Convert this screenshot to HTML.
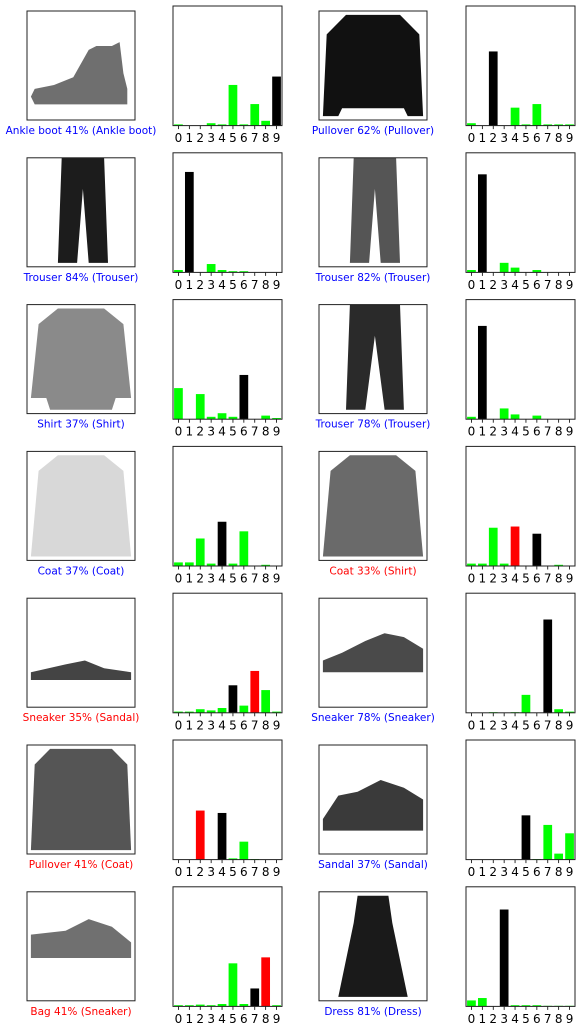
<!DOCTYPE html>
<html><head><meta charset="utf-8"><style>
html,body{margin:0;padding:0;background:#fff;}
svg{display:block;font-family:"DejaVu Sans","Liberation Sans",sans-serif;}
</style></head><body>
<svg id="fig" width="579" height="1029" viewBox="0 0 579 1029" xmlns="http://www.w3.org/2000/svg"></svg>
<script>
const classTicks = ["0","1","2","3","4","5","6","7","8","9"];
const labels = [
 "Ankle boot 41% (Ankle boot)","Pullover 62% (Pullover)",
 "Trouser 84% (Trouser)","Trouser 82% (Trouser)",
 "Shirt 37% (Shirt)","Trouser 78% (Trouser)",
 "Coat 37% (Coat)","Coat 33% (Shirt)",
 "Sneaker 35% (Sandal)","Sneaker 78% (Sneaker)",
 "Pullover 41% (Coat)","Sandal 37% (Sandal)",
 "Bag 41% (Sneaker)","Dress 81% (Dress)"];
const predicted = [9,2,1,1,6,1,4,4,7,7,2,5,8,3];
const trueLabel = [9,2,1,1,6,1,4,6,5,7,4,5,7,3];
const probs0 = [0.01,0,0,0.02,0.01,0.34,0.01,0.18,0.04,0.41];
const probs1 = [0.02,0,0.62,0,0.15,0.01,0.18,0.01,0.01,0.01];
const probs2 = [0.02,0.84,0,0.07,0.02,0.01,0.01,0,0,0];
const probs3 = [0.02,0.82,0,0.08,0.04,0,0.02,0,0,0];
const probs4 = [0.26,0,0.21,0.02,0.05,0.02,0.37,0,0.03,0.01];
const probs5 = [0.02,0.78,0,0.09,0.04,0,0.03,0,0,0];
const probs6 = [0.03,0.03,0.23,0.02,0.37,0.02,0.29,0,0.01,0];
const probs7 = [0.02,0.02,0.32,0.02,0.33,0,0.27,0,0.01,0];
const probs8 = [0.01,0.01,0.03,0.02,0.04,0.23,0.06,0.35,0.19,0.01];
const probs9 = [0,0,0.005,0,0.005,0.15,0,0.78,0.03,0.01];
const probs10 = [0,0,0.41,0,0.39,0.01,0.15,0.005,0,0];
const probs11 = [0,0,0,0,0,0.37,0.005,0.29,0.05,0.22];
const probs12 = [0.01,0.01,0.015,0.01,0.02,0.36,0.02,0.15,0.41,0.01];
const probs13 = [0.05,0.07,0,0.81,0.01,0.01,0.01,0.005,0.005,0.005];
const allProbs = [probs0,probs1,probs2,probs3,probs4,probs5,probs6,probs7,probs8,probs9,probs10,probs11,probs12,probs13];

const shapes = [
 {pts:"1,22 2,20 7,19 12,17 16,10 18,9 22,9 24,8 25,16 26,20 26,24 2,24", fill:"#6f6f6f"},
 {pts:"7,1 21,1 26,6 27,27 23,27 22,25 6,25 5,27 1,27 2,6", fill:"#111"},
 {pts:"9,0 20,0 21,27 16,27 14.5,8 13,27 8,27", fill:"#1c1c1c"},
 {pts:"9,0 20,0 21,27 16,27 14.5,8 13,27 8,27", fill:"#555"},
 {pts:"8,1 20,1 25,5 27,24 23,24 22,27 6,27 5,24 1,24 3,5", fill:"#8a8a8a"},
 {pts:"8,0 21,0 22,27 17,27 14.5,8 12,27 7,27", fill:"#2a2a2a"},
 {pts:"8,1 20,1 25,5 27,27 1,27 3,5", fill:"#d8d8d8"},
 {pts:"8,1 20,1 25,5 27,27 1,27 3,5", fill:"#6a6a6a"},
 {pts:"1,19 10,17 15,16 20,18 27,19 27,21 1,21", fill:"#444"},
 {pts:"1,16 6,14 12,11 17,9 22,10 27,13 27,19 1,19", fill:"#4a4a4a"},
 {pts:"6,1 22,1 26,5 27,27 1,27 2,5", fill:"#555"},
 {pts:"1,19 5,13 10,12 16,9 22,11 27,14 27,22 1,22", fill:"#3a3a3a"},
 {pts:"1,11 10,10 16,7 22,9 27,13 27,17 1,17", fill:"#707070"},
 {pts:"10,1 18,1 19,8 23,27 5,27 9,8", fill:"#1a1a1a"}
];

const svg = document.getElementById('fig');
const NS = "http://www.w3.org/2000/svg";
function mk(tag, attrs, parent){const e=document.createElementNS(NS,tag);for(const k in attrs)e.setAttribute(k,attrs[k]);(parent||svg).appendChild(e);return e;}

const pitch = 146.8;
for(let i=0;i<14;i++){
  const row=Math.floor(i/2), col=i%2;
  const dy=row*pitch;
  const imgL = col?319:27, barL = col?466:173;
  const g = mk('g',{});
  
  
  const iw=108, ih=109, it=11+dy;
  const img = mk('g',{},g);
  
  
  mk('rect',{x:imgL,y:it,width:iw,height:ih,fill:'#fff'},img);
  const sc=iw/28, sy=ih/28;
  const pts = shapes[i].pts.split(' ').map(p=>{const [a,b]=p.split(',').map(Number);return (imgL+a*sc).toFixed(1)+','+(it+b*sy).toFixed(1);}).join(' ');
  mk('polygon',{points:pts,fill:shapes[i].fill},img);
  mk('rect',{x:imgL,y:it,width:iw,height:ih,fill:'none',stroke:'#222','stroke-width':1},img);
  const ok = predicted[i]===trueLabel[i];
  const t = mk('text',{x:imgL+iw/2,y:134+dy,'text-anchor':'middle','font-size':'10.5px',fill: ok?'#0000ff':'#ff0000'},g);
  t.textContent = labels[i];
  
  
  const bw=109, top=6+dy, bottom=125.6+dy, bh=bottom-top;
  const xs = k => barL + (k+0.5)*bw/10;
  const ys = v => bottom - v*bh;
  const bc = mk('g',{},g);
  
  
  const vals = allProbs[i];
  for(let k=0;k<10;k++){
    let c='#00ff00';
    if(k===predicted[i]) c = ok?'#000000':'#ff0000';
    if(k===trueLabel[i]) c='#000000';
    const r = mk('rect',{x:(xs(k)-4.36).toFixed(2),y:ys(vals[k]).toFixed(2),width:8.72,height:(vals[k]*bh).toFixed(2),fill:c},bc);
    
    
    mk('line',{x1:xs(k),x2:xs(k),y1:bottom,y2:bottom+3.5,stroke:'#000','stroke-width':0.8},bc);
    const tl = mk('text',{x:xs(k),y:bottom+16.5,'text-anchor':'middle','font-size':'12px',fill:'#000'},bc);
    tl.textContent = classTicks[k];
    
    
  }
  mk('rect',{x:barL,y:top,width:bw,height:bh,fill:'none',stroke:'#222','stroke-width':1},bc);
}
</script>
</body></html>
